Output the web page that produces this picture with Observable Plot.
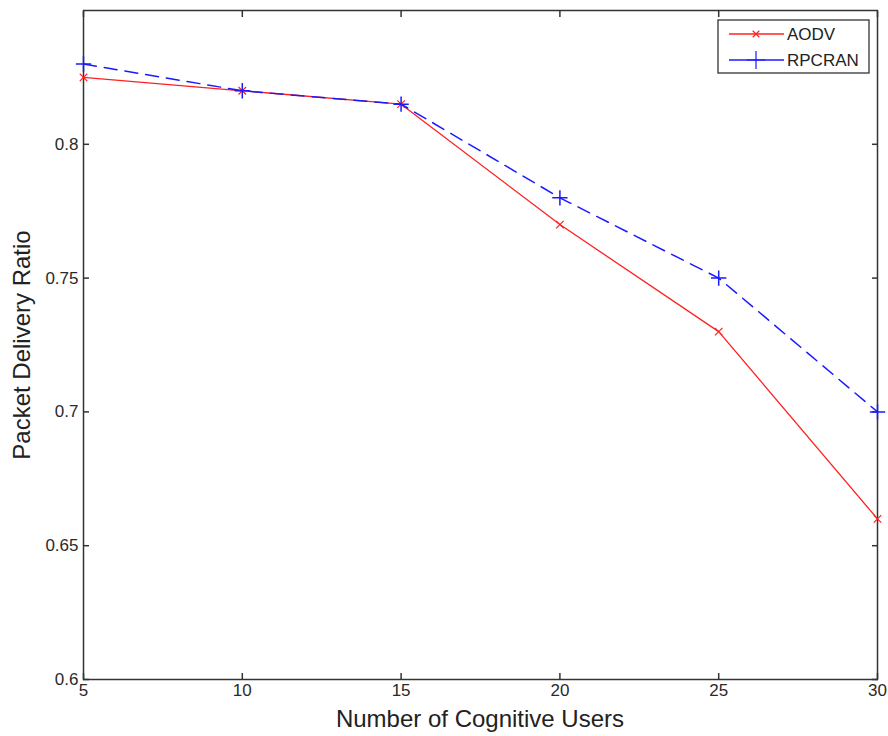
<!DOCTYPE html>
<html>
<head>
<meta charset="utf-8">
<script src="https://cdn.jsdelivr.net/npm/d3@7"></script>
<script src="https://cdn.jsdelivr.net/npm/@observablehq/plot@0.6"></script>
<style>
body{margin:0;background:#fff;}
#chart{position:relative;width:888px;height:736px;}
</style>
</head>
<body>
<div id="chart"></div>
<script>
const users = [5, 10, 15, 20, 25, 30];
const aodv = [0.825, 0.82, 0.815, 0.77, 0.73, 0.66];
const rpcran = [0.83, 0.82, 0.815, 0.78, 0.75, 0.70];
const seriesNames = ["AODV", "RPCRAN"];
const xTicks = [5, 10, 15, 20, 25, 30];
const yTicks = [0.6, 0.65, 0.7, 0.75, 0.8];

const dataA = users.map((u, i) => ({x: u, y: aodv[i]}));
const dataR = users.map((u, i) => ({x: u, y: rpcran[i]}));

const font = "Liberation Sans, Arial, sans-serif";
const plot = Plot.plot({
  width: 888,
  height: 736,
  marginLeft: 83,
  marginRight: 11,
  marginTop: 10,
  marginBottom: 57,
  style: {fontFamily: font, fontSize: "17px", color: "#2a2a2a", background: "#fff"},
  x: {domain: [5, 30]},
  y: {domain: [0.6, 0.85]},
  marks: [
    Plot.frame({stroke: "#333", strokeWidth: 1.5}),
    Plot.axisX({ticks: xTicks, tickSize: 0, tickPadding: 4, fontSize: 17, label: null, tickFormat: d => d}),
    Plot.axisX({ticks: xTicks, anchor: "bottom", tickSize: -6, text: null, label: null, stroke: "#333", strokeWidth: 1.5}),
    Plot.axisX({ticks: xTicks, anchor: "top", tickSize: -6, text: null, label: null, stroke: "#333", strokeWidth: 1.5}),
    Plot.axisY({ticks: yTicks, tickSize: 0, tickPadding: 5, fontSize: 17, label: null, tickFormat: d => String(d)}),
    Plot.axisY({ticks: yTicks, anchor: "left", tickSize: -6, text: null, label: null, stroke: "#333", strokeWidth: 1.5}),
    Plot.axisY({ticks: yTicks, anchor: "right", tickSize: -6, text: null, label: null, stroke: "#333", strokeWidth: 1.5}),
    Plot.line(dataA, {x: "x", y: "y", stroke: "#ff2020", strokeWidth: 1.3}),
    Plot.dot(dataA, {x: "x", y: "y", symbol: "times", r: 3.5, stroke: "#ff2020", strokeWidth: 1.2}),
    Plot.line(dataR, {x: "x", y: "y", stroke: "#1a1aff", strokeWidth: 1.5, strokeDasharray: "13,8"}),
    Plot.dot(dataR, {x: "x", y: "y", symbol: "plus", r: 5, stroke: "#1a1aff", strokeWidth: 1.5})
  ]
});
document.getElementById("chart").appendChild(plot);

const svg = d3.select(plot);
svg.selectAll('g[aria-label="x-axis tick label"], g[aria-label="y-axis tick label"]')
  .style("font-size", "17px").selectAll("text").style("font-size", "17px");

// axis titles
svg.append("text").attr("x", 480).attr("y", 727).attr("text-anchor", "middle")
  .attr("font-family", font).attr("font-size", 24).attr("fill", "#222").text("Number of Cognitive Users");
svg.append("text").attr("transform", "translate(30,345) rotate(-90)").attr("text-anchor", "middle")
  .attr("font-family", font).attr("font-size", 24).attr("fill", "#222").text("Packet Delivery Ratio");

// legend
const lg = svg.append("g").attr("transform", "translate(718,20)");
lg.append("rect").attr("width", 151).attr("height", 53).attr("fill", "#fff").attr("stroke", "#333").attr("stroke-width", 1.3);
const cols = ["#ff2020", "#1a1aff"];
const syms = [d3.symbolTimes, d3.symbolPlus];
seriesNames.forEach((name, i) => {
  const cy = 14 + i * 26;
  lg.append("line").attr("x1", 11).attr("x2", 66).attr("y1", cy).attr("y2", cy).attr("stroke", cols[i]).attr("stroke-width", 1.3);
  lg.append("path").attr("d", d3.symbol(syms[i], i === 0 ? 30 : 110)()).attr("transform", `translate(38,${cy})`)
    .attr("fill", "none").attr("stroke", cols[i]).attr("stroke-width", 1.2);
  lg.append("text").attr("x", 69).attr("y", cy + 6).attr("text-anchor", "start").attr("font-family", font)
    .attr("font-size", 17).attr("fill", "#222").text(name);
});
</script>
</body>
</html>
